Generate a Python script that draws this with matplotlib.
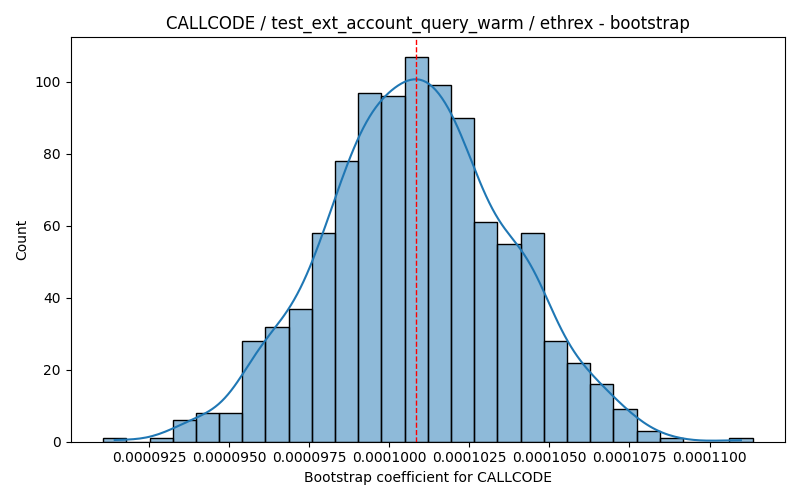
import numpy as np
import matplotlib
matplotlib.use("Agg")
import matplotlib.pyplot as plt
import seaborn as sns

# histogram: 28 equal bins between lo and hi
bin_lo = 0.00009106
bin_hi = 0.000111344
counts = [1, 0, 1, 6, 8, 8, 28, 32, 37, 58, 78, 97, 96, 107,
          99, 90, 61, 55, 58, 28, 22, 16, 9, 3, 1, 0, 0, 1]
mean_coef = 0.00010084

metric = "CALLCODE"
test_name = "test_ext_account_query_warm"
client = "ethrex"

edges = np.linspace(bin_lo, bin_hi, len(counts) + 1)
centers = (edges[:-1] + edges[1:]) / 2
samples = np.repeat(centers, counts)

fig, ax = plt.subplots(figsize=(8, 5), dpi=100)
sns.histplot(x=samples, bins=edges, kde=True, edgecolor="black", ax=ax)
ax.axvline(mean_coef, color="red", linestyle="--", linewidth=1)

ax.set_title(f"{metric} / {test_name} / {client} - bootstrap")
ax.set_xlabel(f"Bootstrap coefficient for {metric}")
ax.set_ylabel("Count")

fig.tight_layout()
fig.savefig("out.png")
